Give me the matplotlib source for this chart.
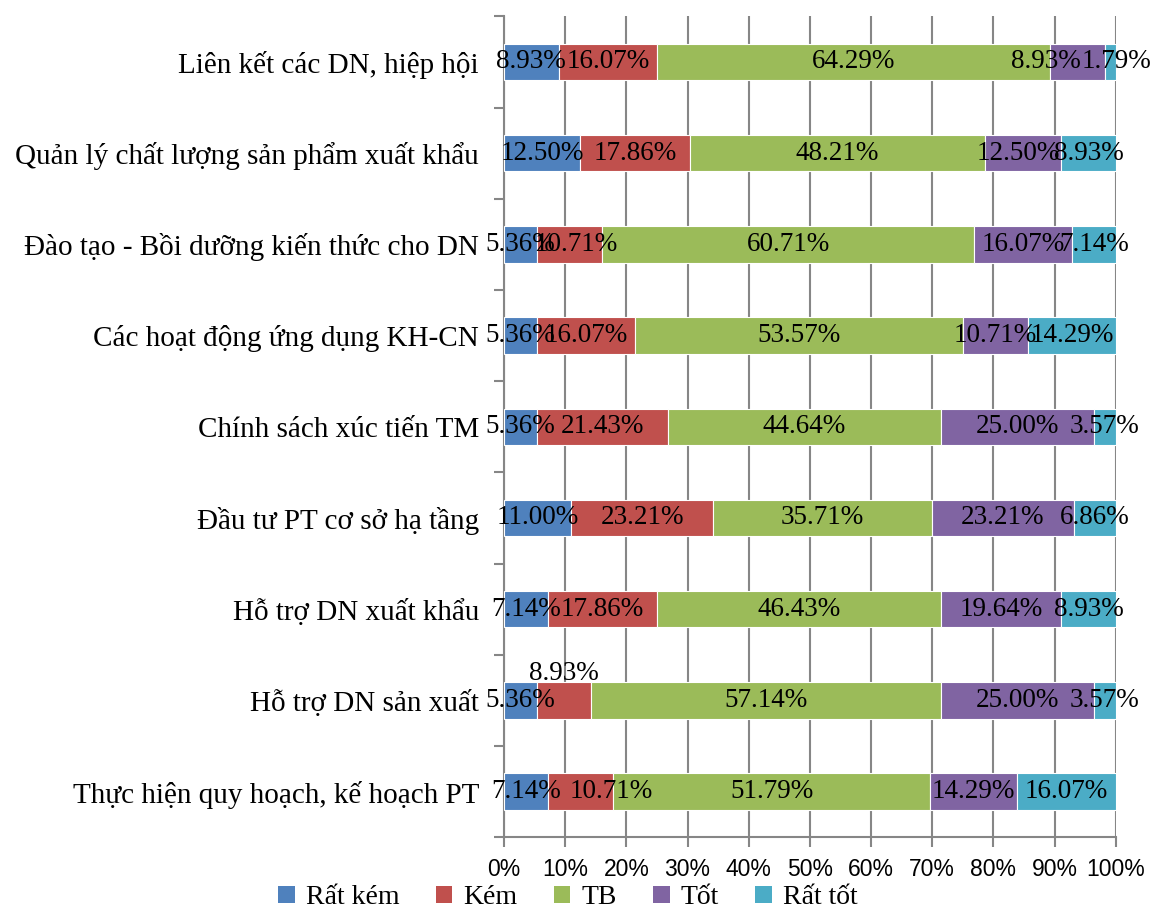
import numpy as np
import matplotlib.pyplot as plt
from matplotlib.patches import Patch

# Các nhóm đánh giá (từ dưới lên trên)
categories = [
    "Thực hiện quy hoạch, kế hoạch PT",
    "Hỗ trợ DN sản xuất",
    "Hỗ trợ DN xuất khẩu",
    "Đầu tư PT cơ sở hạ tầng",
    "Chính sách xúc tiến TM",
    "Các hoạt động ứng dụng KH-CN",
    "Đào tạo - Bồi dưỡng kiến thức cho DN",
    "Quản lý chất lượng sản phẩm xuất khẩu",
    "Liên kết các DN, hiệp hội",
]
levels = ["Rất kém", "Kém", "TB", "Tốt", "Rất tốt"]

rat_kem = [7.14, 5.36, 7.14, 11.00, 5.36, 5.36, 5.36, 12.50, 8.93]
kem = [10.71, 8.93, 17.86, 23.21, 21.43, 16.07, 10.71, 17.86, 16.07]
tb = [51.79, 57.14, 46.43, 35.71, 44.64, 53.57, 60.71, 48.21, 64.29]
tot = [14.29, 25.00, 19.64, 23.21, 25.00, 10.71, 16.07, 12.50, 8.93]
rat_tot = [16.07, 3.57, 8.93, 6.86, 3.57, 14.29, 7.14, 8.93, 1.79]

colors = ["#4F81BD", "#C0504D", "#9BBB59", "#8064A2", "#4BACC6"]
serif = "Liberation Serif"

# dịch nhãn bị chồng: (mức, nhóm) -> (dx theo %, dy theo hàng)
nudge = {(1, 1): (0, 0.3), (3, 8): (-5.2, 0), (4, 8): (1.1, 0),
         (1, 6): (1.1, 0), (1, 0): (5.0, 0), (3, 7): (-0.8, 0)}

series = np.array([rat_kem, kem, tb, tot, rat_tot])
totals = series.sum(axis=0)
shares = series / totals * 100

fig = plt.figure(figsize=(11.52, 9.08), dpi=100)
ax = fig.add_axes([0.4375, 0.078, 0.531, 0.904])

y = np.arange(len(categories))
left = np.zeros(len(categories))
for i, name in enumerate(levels):
    ax.barh(y, shares[i], left=left, height=0.4, color=colors[i],
            edgecolor="white", linewidth=0.8, label=name, zorder=3)
    for j in range(len(categories)):
        dx, dy = nudge.get((i, j), (0, 0))
        cx = left[j] + shares[i][j] / 2 + dx
        cy = y[j] + dy
        ax.text(cx, cy, f"{series[i][j]:.2f}%", ha="center", va="center",
                fontsize=19.5, family=serif, zorder=4)
    left += shares[i]

ax.set_xlim(0, 100)
ax.set_ylim(-0.5, len(categories) - 0.5)
ax.set_xticks(np.arange(0, 101, 10))
ax.set_xticklabels([f"{v}%" for v in range(0, 101, 10)],
                   fontsize=16.5, family="Liberation Sans")
ax.set_yticks(y)
ax.set_yticklabels(categories, fontsize=21, family=serif)
ax.set_yticks(np.arange(-0.5, len(categories), 1), minor=True)
ax.tick_params(axis="y", which="major", length=0, pad=18)
ax.tick_params(axis="y", which="minor", length=7, width=1.5, color="#868686")
ax.tick_params(axis="x", length=7, width=1.5, color="#868686", pad=8)

ax.grid(axis="x", color="#868686", linewidth=1.5, zorder=0)
for side in ["top", "right"]:
    ax.spines[side].set_visible(False)
for side in ["left", "bottom"]:
    ax.spines[side].set_color("#868686")
    ax.spines[side].set_linewidth(1.5)

handles = [Patch(facecolor=c, edgecolor="none") for c in colors]
fig.legend(handles, levels, loc="lower center", bbox_to_anchor=(0.493, -0.03),
           ncol=5, frameon=False, prop={"family": serif, "size": 20},
           handlelength=0.6, handleheight=0.6, handletextpad=0.4,
           columnspacing=1.3)

fig.savefig("out.png", dpi=100)
